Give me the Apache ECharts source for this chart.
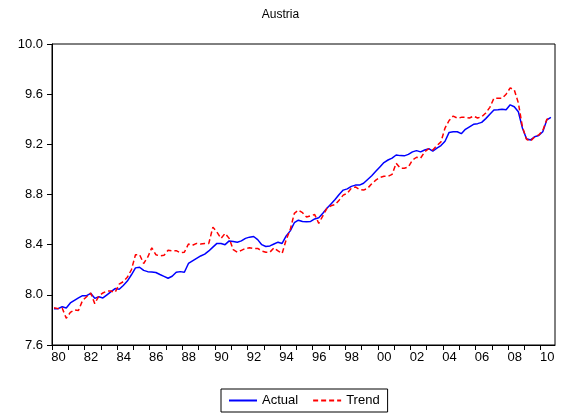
<!DOCTYPE html>
<html>
<head>
<meta charset="utf-8">
<script src="https://cdn.jsdelivr.net/npm/echarts@6/dist/echarts.min.js"></script>
<style>html,body{margin:0;padding:0;background:#fff}#c{width:561px;height:416px}</style>
</head>
<body>
<div id="c"></div>
<script>
// Quarterly observations 1980Q1 .. 2010Q3
const startYear = 1980;
const actual = [
7.89,7.89,7.905,7.895,7.935,7.955,7.975,7.993,7.993,8.012,7.972,7.985,7.975,8.0,8.025,8.05,
8.045,8.075,8.11,8.16,8.215,8.22,8.195,8.185,8.182,8.178,8.162,8.147,8.132,8.148,8.18,8.185,
8.18,8.25,8.27,8.29,8.31,8.325,8.35,8.38,8.41,8.41,8.40,8.43,8.425,8.42,8.43,8.45,
8.46,8.465,8.44,8.40,8.385,8.39,8.405,8.42,8.41,8.47,8.51,8.575,8.595,8.585,8.583,8.585,
8.605,8.615,8.65,8.69,8.725,8.76,8.8,8.835,8.845,8.865,8.875,8.875,8.89,8.92,8.95,8.985,
9.02,9.055,9.075,9.09,9.115,9.11,9.108,9.12,9.14,9.15,9.14,9.155,9.165,9.145,9.17,9.19,
9.225,9.295,9.30,9.30,9.285,9.32,9.34,9.36,9.365,9.375,9.405,9.44,9.474,9.475,9.48,9.475,
9.515,9.50,9.46,9.33,9.245,9.235,9.26,9.27,9.30,9.395,9.415
];
const trend = [
7.897,7.89,7.895,7.813,7.86,7.88,7.875,7.955,7.985,8.015,7.93,7.99,8.015,8.03,8.03,8.02,
8.085,8.105,8.14,8.2,8.32,8.32,8.25,8.30,8.375,8.32,8.31,8.315,8.355,8.35,8.352,8.335,
8.34,8.405,8.395,8.41,8.405,8.41,8.41,8.54,8.5,8.45,8.49,8.45,8.36,8.34,8.355,8.37,
8.375,8.37,8.37,8.35,8.34,8.34,8.375,8.35,8.33,8.44,8.52,8.65,8.675,8.655,8.62,8.63,
8.64,8.57,8.63,8.69,8.71,8.72,8.755,8.795,8.81,8.85,8.86,8.84,8.835,8.85,8.885,8.915,
8.935,8.945,8.945,8.96,9.05,9.01,9.01,9.02,9.075,9.097,9.09,9.14,9.165,9.155,9.19,9.22,
9.33,9.39,9.425,9.41,9.415,9.415,9.41,9.425,9.41,9.42,9.45,9.495,9.567,9.567,9.567,9.6,
9.65,9.635,9.53,9.34,9.24,9.225,9.26,9.275,9.31,9.40,9.405
];
const tickYears = [];
for (let y = 1980; y <= 2010; y++) tickYears.push(y);
const labelYears = [1980,1982,1984,1986,1988,1990,1992,1994,1996,1998,2000,2002,2004,2006,2008,2010];

function toXY(arr) {
  return arr.map((v, i) => [startYear + (i + 0.5) / 4, v]);
}

const FONT = 'Liberation Sans, Arial, sans-serif';
const chart = echarts.init(document.getElementById('c'), null, {renderer: 'canvas'});
chart.setOption({
  animation: false,
  backgroundColor: '#fff',
  title: {
    text: 'Austria', left: 'center', top: 4,
    textStyle: {fontFamily: FONT, fontSize: 12, fontWeight: 'normal', color: '#000'}
  },
  grid: {left: 52, right: 6, top: 44, bottom: 71, show: true, borderColor: '#000', borderWidth: 1, backgroundColor: 'transparent'},
  legend: {
    data: ['Actual', 'Trend'], top: 389, left: 221,
    borderColor: '#000', borderWidth: 1, padding: [5, 8, 5, 7], itemGap: 14, itemWidth: 28, itemHeight: 14,
    itemStyle: {opacity: 0},
    textStyle: {fontFamily: FONT, fontSize: 13, color: '#000'}
  },
  xAxis: {
    type: 'value', min: 1980, max: 2010.875,
    axisLine: {lineStyle: {color: '#000'}},
    splitLine: {show: false},
    axisTick: {show: true, length: 5, lineStyle: {color: '#000'}, customValues: tickYears},
    axisLabel: {
      customValues: labelYears.map(y => y + 0.4),
      formatter: v => String(Math.floor(v) % 100).padStart(2, '0'),
      fontFamily: FONT, fontSize: 13, color: '#000', margin: 6
    }
  },
  yAxis: {
    type: 'value', min: 7.6, max: 10.0, interval: 0.4,
    axisLine: {show: true, lineStyle: {color: '#000'}},
    splitLine: {show: false},
    axisTick: {show: true, length: 5, lineStyle: {color: '#000'}},
    axisLabel: {
      formatter: v => v.toFixed(1),
      fontFamily: FONT, fontSize: 13, color: '#000', margin: 9
    }
  },
  series: [
    {name: 'Actual', type: 'line', data: toXY(actual), showSymbol: false, symbol: 'none',
     lineStyle: {color: '#0000ff', width: 1.5}, itemStyle: {color: '#0000ff'}},
    {name: 'Trend', type: 'line', data: toXY(trend), showSymbol: false, symbol: 'none',
     lineStyle: {color: '#ff0000', width: 1.5, type: [5, 3]}, itemStyle: {color: '#ff0000'}}
  ]
});
</script>
</body>
</html>
